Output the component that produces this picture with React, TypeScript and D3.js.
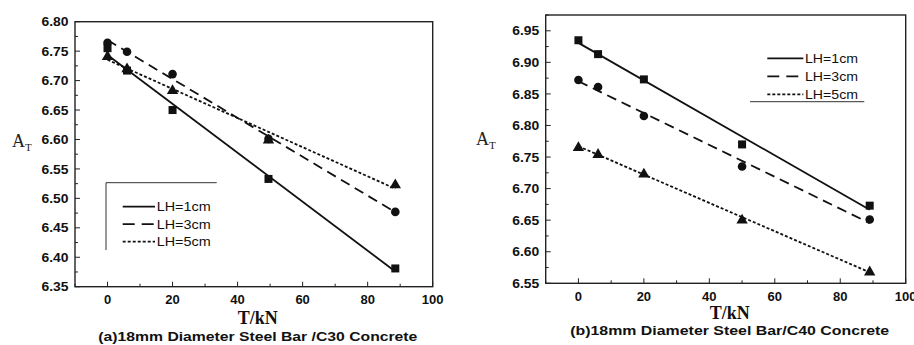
import React from "react";
import * as d3 from "d3";

const loads = [0, 6, 20, 49.5, 88.5];
const loadsB = [0, 6, 20, 50, 89];
const seriesNames = ["LH=1cm", "LH=3cm", "LH=5cm"];
const c30LH1 = [6.755, 6.717, 6.65, 6.533, 6.381];
const c30LH3 = [6.764, 6.749, 6.711, 6.601, 6.477];
const c30LH5 = [6.742, 6.721, 6.684, 6.6, 6.524];
const c40LH1 = [6.935, 6.913, 6.873, 6.77, 6.673];
const c40LH3 = [6.872, 6.861, 6.815, 6.735, 6.651];
const c40LH5 = [6.766, 6.755, 6.724, 6.651, 6.569];
const xTicks = [0, 20, 40, 60, 80, 100];
const yTicksA = [6.35, 6.4, 6.45, 6.5, 6.55, 6.6, 6.65, 6.7, 6.75, 6.8];
const yTicksB = [6.55, 6.6, 6.65, 6.7, 6.75, 6.8, 6.85, 6.9, 6.95];
const captions = ["(a)18mm Diameter Steel Bar /C30 Concrete", "(b)18mm Diameter Steel Bar/C40 Concrete"];

const dashes = [null, "10,6", "3,2"];
const markers = ["square", "circle", "triangle"];

function fit(xs: number[], ys: number[]) {
  const mx = d3.mean(xs)!;
  const my = d3.mean(ys)!;
  let sxy = 0, sxx = 0;
  xs.forEach((x, i) => { sxy += (x - mx) * (ys[i] - my); sxx += (x - mx) * (x - mx); });
  const b = sxy / sxx;
  return { a: my - b * mx, b };
}

function Marker({ type, x, y }: { type: string; x: number; y: number }) {
  if (type === "square") return <rect x={x - 4} y={y - 4} width={8} height={8} fill="#111" />;
  if (type === "circle") return <circle cx={x} cy={y} r={4.3} fill="#111" />;
  const p = d3.symbol().type(d3.symbolTriangle).size(56)();
  return <path d={p || ""} transform={`translate(${x},${y + 0.8})`} fill="#111" />;
}

type PanelProps = {
  left: number; right: number; top: number; bottom: number;
  yDomain: [number, number]; yTicks: number[]; xs: number[];
  series: number[][]; caption: string; legend: "a" | "b";
  aX: number; aY: number; xLabelY: number; capY: number; tickLabelY: number;
};

function Panel(p: PanelProps) {
  const x = d3.scaleLinear().domain([-10, 100]).range([p.left, p.right]);
  const y = d3.scaleLinear().domain(p.yDomain).range([p.bottom, p.top]);
  const minorX = d3.range(-10, 101, 10);
  const minorY = d3.range(Math.round(p.yDomain[0] * 1000), Math.round(p.yDomain[1] * 1000) + 1, 25).map((v) => v / 1000);
  const cx = (p.left + p.right) / 2 + 4;
  return (
    <g>
      <rect x={p.left} y={p.top} width={p.right - p.left} height={p.bottom - p.top} fill="none" stroke="#222" strokeWidth={1.4} />
      {minorX.map((t) => (
        <line key={"mx" + t} x1={x(t)} x2={x(t)} y1={p.bottom} y2={p.bottom - (t % 20 === 0 ? 5 : 3)} stroke="#222" strokeWidth={1} />
      ))}
      {minorY.map((t) => (
        <line key={"my" + t} x1={p.left} x2={p.left + (Math.round(t * 1000) % 50 === 0 ? 5 : 3)} y1={y(t)} y2={y(t)} stroke="#222" strokeWidth={1} />
      ))}
      {xTicks.map((t) => (
        <text key={"xt" + t} x={x(t)} y={p.tickLabelY} textAnchor="middle" fontFamily="Liberation Sans, Arial, sans-serif" fontWeight="bold" fontSize={13} fill="#111">{t}</text>
      ))}
      {p.yTicks.map((t) => (
        <text key={"yt" + t} x={p.left - 6.5} y={y(t)} dy="0.36em" textAnchor="end" fontFamily="Liberation Sans, Arial, sans-serif" fontWeight="bold" fontSize={13} textLength={27} lengthAdjust="spacingAndGlyphs" fill="#111">{t.toFixed(2)}</text>
      ))}
      {p.series.map((vals, i) => {
        const f = fit(p.xs, vals);
        const x0 = p.xs[0], x1 = p.xs[p.xs.length - 1];
        return (
          <g key={"s" + i}>
            <line x1={x(x0)} y1={y(f.a + f.b * x0)} x2={x(x1)} y2={y(f.a + f.b * x1)} stroke="#111" strokeWidth={1.8} strokeDasharray={dashes[i] || undefined} />
            {vals.map((v, j) => <Marker key={j} type={markers[i]} x={x(p.xs[j])} y={y(v)} />)}
          </g>
        );
      })}
      <text x={p.aX} y={p.aY} fontFamily="Liberation Serif, Times New Roman, serif" fontSize={18} fill="#222">A<tspan fontSize={11} dy={4}>T</tspan></text>
      <text x={cx} y={p.xLabelY} textAnchor="middle" fontFamily="Liberation Serif, Times New Roman, serif" fontWeight="bold" fontSize={18} fill="#111">T/kN</text>
      <text x={cx} y={p.capY} textAnchor="middle" fontFamily="Liberation Sans, Arial, sans-serif" fontWeight="bold" fontSize={13.5} textLength={319} lengthAdjust="spacingAndGlyphs" fill="#111">{p.caption}</text>
      {p.legend === "a" ? (
        <g>
          <line x1={106} x2={216.7} y1={182.7} y2={182.7} stroke="#333" strokeWidth={1} />
          <line x1={106} x2={106} y1={182.7} y2={250} stroke="#333" strokeWidth={1} />
          {seriesNames.map((n, i) => (
            <g key={n}>
              <line x1={122.7} x2={155} y1={206.7 + i * 17.5} y2={206.7 + i * 17.5} stroke="#111" strokeWidth={1.8} strokeDasharray={i === 1 ? "12,7" : dashes[i] || undefined} />
              <text x={156.7} y={206.7 + i * 17.5} dy="0.36em" fontFamily="Liberation Sans, Arial, sans-serif" fontSize={13} textLength={54} lengthAdjust="spacingAndGlyphs" fill="#111">{n}</text>
            </g>
          ))}
        </g>
      ) : (
        <g>
          {seriesNames.map((n, i) => (
            <g key={n}>
              <line x1={767.3} x2={803.3} y1={58.3 + i * 18} y2={58.3 + i * 18} stroke="#111" strokeWidth={1.8} strokeDasharray={i === 1 ? "12,7" : dashes[i] || undefined} />
              <text x={805} y={58.3 + i * 18} dy="0.36em" fontFamily="Liberation Sans, Arial, sans-serif" fontSize={13} textLength={53} lengthAdjust="spacingAndGlyphs" fill="#111">{n}</text>
            </g>
          ))}
          <line x1={750} x2={864.3} y1={101.7} y2={101.7} stroke="#333" strokeWidth={1} />
        </g>
      )}
    </g>
  );
}

export default function App() {
  return (
    <svg width={914} height={345} style={{ position: "absolute", left: 0, top: 0, background: "#fff" }}>
      <Panel left={75} right={432.7} top={21.7} bottom={286.7} yDomain={[6.35, 6.8]} yTicks={yTicksA} xs={loads}
        series={[c30LH1, c30LH3, c30LH5]} caption={captions[0]} legend="a" aX={12} aY={147} xLabelY={324} capY={340.5} tickLabelY={303.5} />
      <Panel left={545.7} right={905.7} top={15} bottom={283.3} yDomain={[6.55, 6.975]} yTicks={yTicksB} xs={loadsB}
        series={[c40LH1, c40LH3, c40LH5]} caption={captions[1]} legend="b" aX={476} aY={145} xLabelY={318.5} capY={335} tickLabelY={300.5} />
    </svg>
  );
}
